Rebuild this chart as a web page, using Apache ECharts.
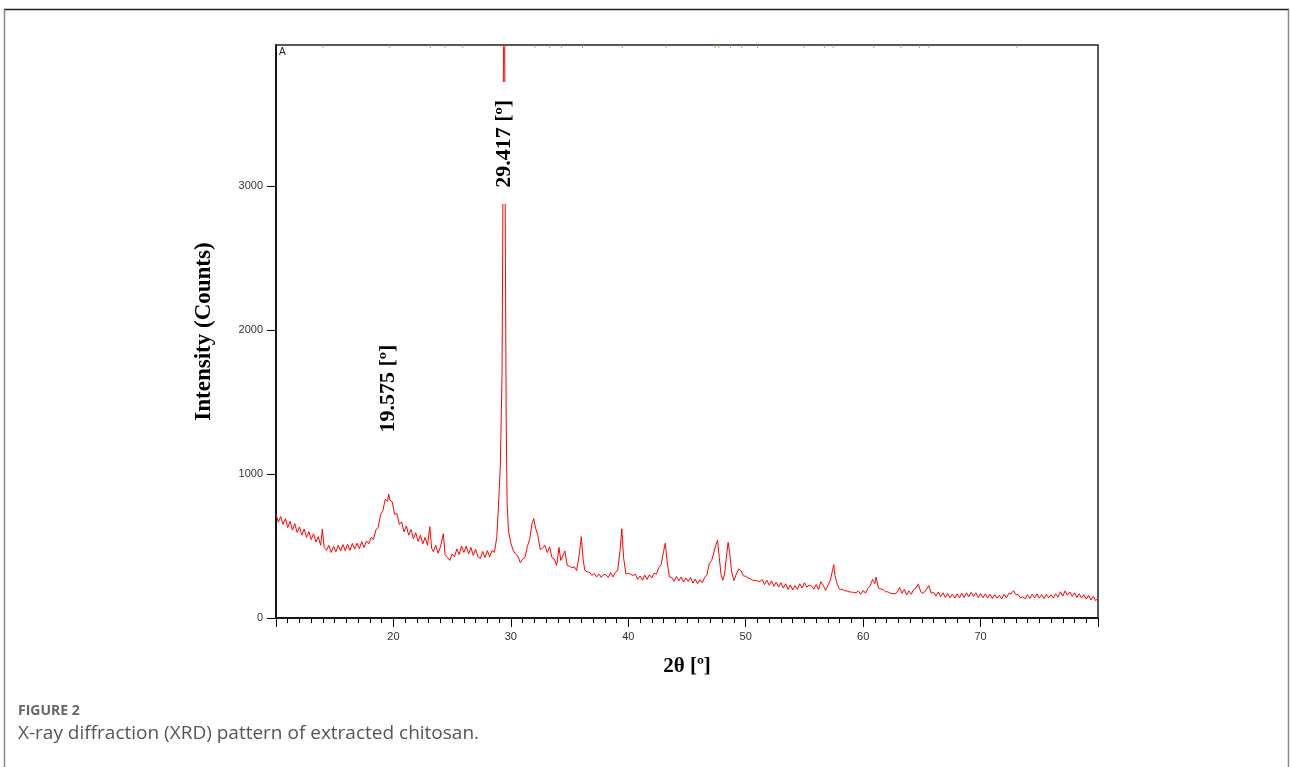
<!DOCTYPE html>
<html>
<head>
<meta charset="utf-8">
<script src="https://cdn.jsdelivr.net/npm/echarts@6/dist/echarts.min.js"></script>
<style>
html,body{margin:0;padding:0;background:#fff;}
#chart{width:1290px;height:767px;}
</style>
</head>
<body>
<div id="chart"></div>
<script>
// XRD scan: [2θ (°), intensity (counts)]
const scanLow = [
[10.0,720],[10.2,665],[10.4,705],[10.6,650],[10.8,690],[11.0,628],[11.2,672],[11.4,610],[11.6,655],[11.8,595],
[12.0,632],[12.2,575],[12.4,618],[12.6,560],[12.8,600],[13.0,545],[13.2,585],[13.4,528],[13.6,565],[13.8,505],
[13.95,618],[14.1,490],[14.3,470],[14.5,505],[14.7,455],[14.9,498],[15.1,460],[15.3,505],[15.5,465],[15.7,510],
[15.9,468],[16.1,512],[16.3,470],[16.5,518],[16.7,478],[16.9,520],[17.1,482],[17.3,530],[17.5,490],[17.7,535],
[17.9,515],[18.1,560],[18.3,545],[18.5,610],[18.7,630],[18.9,715],[19.1,745],[19.3,825],[19.5,810],[19.6,860],
[19.7,820],[19.9,805],[20.1,720],[20.3,725],[20.5,650],[20.7,668],[20.9,598],[21.1,640],[21.3,575],[21.5,615],
[21.7,550],[21.9,592],[22.1,532],[22.3,575],[22.5,515],[22.7,560],[22.9,505],[23.1,635],[23.25,485],[23.4,460],
[23.6,505],[23.8,450],[24.0,492],[24.25,585],[24.4,440],[24.6,420],[24.8,400],[25.0,445],[25.2,425],[25.4,480],
[25.6,440],[25.8,500],[26.0,455],[26.2,500],[26.4,445],[26.6,490],[26.8,435],[27.0,478],[27.2,425],[27.4,415],
[27.6,462],[27.8,420],[28.0,468],[28.2,425],[28.4,470],[28.6,455]
];
const scanPeak = [
[28.8,560],[28.95,780],[29.1,1050],[29.25,1700],[29.33,3000],[29.4,4700],[29.45,4600],[29.52,2800],[29.6,1400],
[29.68,800],[29.8,600],[30.0,520]
];
const scanMid = [
[30.2,470],[30.4,445],[30.6,430],[30.8,385],[31.0,410],[31.2,420],[31.4,495],[31.6,545],[31.8,655],[31.95,690],
[32.1,625],[32.3,575],[32.5,475],[32.7,485],[32.9,505],[33.1,455],[33.3,495],[33.5,420],[33.7,410],[33.9,365],
[34.1,490],[34.25,400],[34.4,395],[34.6,465],[34.8,365],[35.0,360],[35.2,350],[35.4,355],[35.6,330],[35.8,425],
[36.0,565],[36.15,410],[36.3,330],[36.5,320],[36.7,318],[36.9,295],[37.1,310],[37.3,285],[37.5,305],[37.7,282],
[37.9,302],[38.1,300],[38.3,282],[38.5,315],[38.7,285],[38.9,318],[39.1,330],[39.3,470],[39.45,620],[39.6,420],
[39.8,305],[40.0,312],[40.2,305],[40.4,295],[40.6,305],[40.8,268],[41.0,292],[41.2,262],[41.4,298],[41.6,268],
[41.8,300],[42.0,278],[42.2,312],[42.4,305],[42.6,350],[42.8,372],[43.0,460],[43.15,520],[43.3,400],[43.5,285],
[43.7,282],[43.9,255],[44.1,288],[44.3,258],[44.5,285],[44.7,250],[44.9,278],[45.1,255],[45.3,282],[45.5,242],
[45.7,270],[45.9,238],[46.1,265],[46.3,245],[46.5,282],[46.7,300],[46.9,378],[47.1,400],[47.3,458],[47.45,505],
[47.6,540],[47.75,420],[47.9,300],[48.05,262],[48.2,305],[48.35,420],[48.5,525],[48.65,440],[48.8,320],[49.0,260],
[49.2,305],[49.4,340],[49.6,328],[49.8,292]
];
const scanHigh = [
[50.0,290],[50.2,278],[50.4,272],[50.6,262],[50.8,262],[51.0,258],[51.2,252],[51.4,268],[51.6,232],[51.8,262],
[52.0,228],[52.2,258],[52.4,220],[52.6,248],[52.8,215],[53.0,245],[53.2,208],[53.4,238],[53.6,198],[53.8,230],
[54.0,195],[54.2,225],[54.4,198],[54.6,238],[54.8,208],[55.0,245],[55.2,215],[55.4,228],[55.6,222],[55.8,200],
[56.0,232],[56.2,198],[56.4,252],[56.6,228],[56.8,192],[57.0,225],[57.2,260],[57.4,335],[57.5,370],[57.6,295],
[57.8,232],[58.0,198],[58.2,200],[58.4,190],[58.6,188],[58.8,182],[59.0,180],[59.2,178],[59.4,175],[59.6,188],
[59.8,165],[60.0,192],[60.2,172],[60.4,205],[60.6,225],[60.8,268],[61.0,238],[61.1,285],[61.3,208],[61.5,202],
[61.7,198],[61.9,182],[62.1,182],[62.3,172],[62.5,170],[62.7,168],[62.9,178],[63.1,212],[63.3,172],[63.5,198],
[63.7,160],[63.9,188],[64.1,165],[64.3,198],[64.5,208],[64.7,235],[64.9,182],[65.1,170],[65.3,188],[65.6,225],
[65.8,172],[66.0,178],[66.2,152],[66.4,180],[66.6,148],[66.8,175],[67.0,142],[67.2,170],[67.4,140],[67.6,165],
[67.8,138],[68.0,168],[68.2,140],[68.4,172],[68.6,142],[68.8,175],[69.0,148],[69.2,178],[69.4,150],[69.6,175],
[69.8,142],[70.0,170],[70.2,140],[70.4,168],[70.6,138],[70.8,165],[71.0,135],[71.2,162],[71.4,138],[71.6,158],
[71.8,132],[72.0,165],[72.2,140],[72.4,170],[72.6,168],[72.8,190],[73.0,162],[73.2,162],[73.4,140],[73.6,148],
[73.8,133],[74.0,162],[74.2,135],[74.4,165],[74.6,140],[74.8,168],[75.0,138],[75.2,162],[75.4,135],[75.6,165],
[75.8,140],[76.0,162],[76.2,138],[76.4,168],[76.6,145],[76.8,182],[77.0,152],[77.2,188],[77.4,158],[77.6,180],
[77.8,150],[78.0,175],[78.2,142],[78.4,168],[78.6,138],[78.8,162],[79.0,132],[79.2,158],[79.4,125],[79.6,150],
[79.8,120],[80.0,138]
];
// reference-pattern peak markers shown on the top frame (2θ, °)
const refPeakAngles = [14.0, 19.65, 23.15, 24.4, 25.9, 29.42, 32.05, 33.3, 34.3, 36.1, 39.5, 43.2, 47.4, 47.7,
  48.7, 49.65, 51.0, 54.95, 56.7, 57.45, 60.9, 63.2, 64.8, 65.6, 73.1];
// peak annotations: [2θ position, label anchor intensity, text]
const peakLabels = [
  [19.6, 1600, '19.575 [º]'],
  [29.417, 3300, '29.417 [º]']
];
const xTicks = [10, 20, 30, 40, 50, 60, 70, 80];
const yTicks = [0, 1000, 2000, 3000];
const yMax = 3980;

const scan = scanLow.concat(scanPeak, scanMid, scanHigh);

const chart = echarts.init(document.getElementById('chart'), null, {renderer: 'canvas'});
const serif = '"Liberation Serif", "Times New Roman", serif';
const sans = '"Liberation Sans", Arial, sans-serif';
const capFont = '"Open Sans", Lato, sans-serif';

chart.setOption({
  backgroundColor: '#fff',
  animation: false,
  grid: {left: 276, top: 45, right: 192, bottom: 149, show: true, borderColor: '#222', borderWidth: 1.5, backgroundColor: 'transparent'},
  xAxis: {
    type: 'value', min: xTicks[0], max: xTicks[xTicks.length - 1], interval: 10,
    name: '2θ [º]', nameLocation: 'middle', nameGap: 38,
    nameTextStyle: {fontFamily: serif, fontWeight: 'bold', fontSize: 21, color: '#000'},
    axisLine: {onZero: false, lineStyle: {color: '#000', width: 1.5}},
    axisTick: {show: true, inside: false, length: 9, lineStyle: {color: '#000', width: 1}},
    minorTick: {show: true, splitNumber: 10, length: 5, lineStyle: {color: '#000', width: 1}},
    axisLabel: {showMinLabel: false, showMaxLabel: false, fontFamily: sans, fontSize: 11, color: '#333', margin: 13},
    splitLine: {show: false}
  },
  yAxis: {
    type: 'value', min: 0, max: yMax, interval: 1000,
    name: 'Intensity (Counts)', nameLocation: 'middle', nameGap: 60, nameRotate: 90,
    nameTextStyle: {fontFamily: serif, fontWeight: 'bold', fontSize: 23, color: '#000'},
    axisLine: {show: true, lineStyle: {color: '#000', width: 1.5}},
    axisTick: {show: true, inside: false, length: 9, lineStyle: {color: '#000', width: 1}},
    axisLabel: {fontFamily: sans, fontSize: 11, color: '#333', margin: 13, showMaxLabel: false,
      formatter: v => yTicks.indexOf(v) >= 0 ? String(v) : ''},
    splitLine: {show: false}
  },
  series: [
    {
      type: 'line', data: scan, showSymbol: false, symbol: 'none', clip: true,
      lineStyle: {color: '#ff0000', width: 1}, z: 2
    },
    {
      type: 'scatter', symbol: 'rect', symbolSize: [1, 3], symbolOffset: [0, 1.5], z: 6, silent: true, clip: false,
      itemStyle: {color: '#c8904e', opacity: 0.9},
      data: refPeakAngles.map(a => [a, yMax])
    },
    {
      type: 'scatter', symbolSize: 0, z: 5, silent: true,
      itemStyle: {opacity: 1},
      data: peakLabels.map(p => ({value: [p[0], p[1]], name: p[2]})),
      label: {
        show: true, position: 'inside', rotate: 90, formatter: p => p.name,
        fontFamily: serif, fontWeight: 'bold', fontSize: 22, color: '#000',
        backgroundColor: '#fff', padding: [2, 18, 2, 16]
      }
    }
  ],
  graphic: [
    {type: 'line', shape: {x1: 4, y1: 9.5, x2: 1289, y2: 9.5}, style: {stroke: '#222', lineWidth: 1.5}, silent: true},
    {type: 'line', shape: {x1: 4.5, y1: 9.5, x2: 4.5, y2: 767}, style: {stroke: '#888', lineWidth: 1.5}, silent: true},
    {type: 'line', shape: {x1: 1288.5, y1: 9.5, x2: 1288.5, y2: 767}, style: {stroke: '#888', lineWidth: 1.5}, silent: true},
    {type: 'text', left: 279, top: 47, style: {text: 'A', fontFamily: sans, fontSize: 10, fill: '#222'}, silent: true},
    {type: 'text', left: 18, top: 704, style: {text: 'FIGURE 2', fontFamily: capFont, fontWeight: 'bold', fontSize: 14, fill: '#666'}, silent: true},
    {type: 'text', left: 18, top: 724, style: {text: 'X-ray diffraction (XRD) pattern of extracted chitosan.', fontFamily: capFont, fontSize: 19, fill: '#555'}, silent: true}
  ]
});
</script>
</body>
</html>
